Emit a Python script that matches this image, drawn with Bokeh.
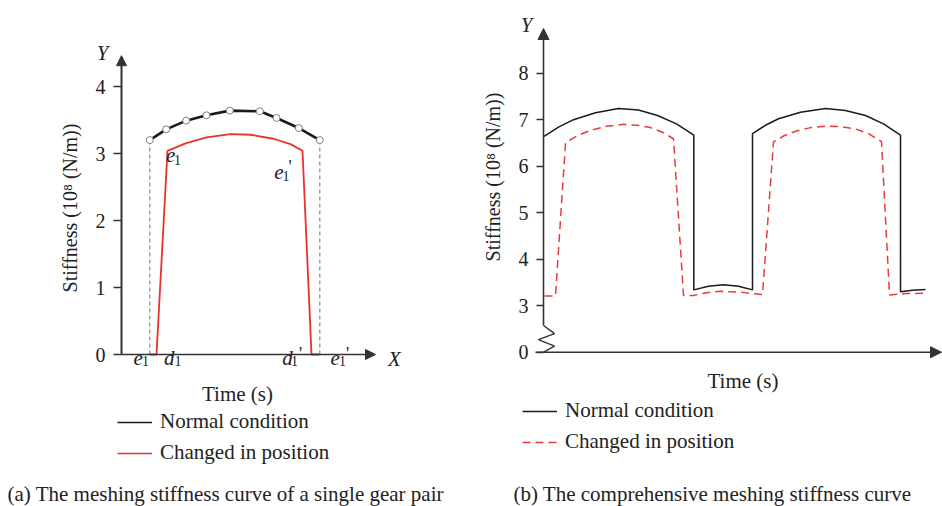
from bokeh.plotting import figure
from bokeh.models import (Range1d, LinearAxis, FixedTicker, Arrow, NormalHead,
                          Legend, LegendItem, Label)
from bokeh.layouts import row
from bokeh.embed import file_html
from bokeh.resources import INLINE
from bokeh.core.properties import value

FONT = "Liberation Serif"
INK = "#222222"
AXIS = "#333333"
RED_A = "#e8322c"
RED_B = "#e83b3b"
NAN = float("nan")

# ---------------- data: panel (a) single gear pair ----------------
a_normal_t = [2.83, 4.47, 6.47, 8.5, 10.83, 13.83, 15.5, 17.73, 19.83]
a_normal_k = [3.20, 3.36, 3.49, 3.57, 3.64, 3.63, 3.53, 3.38, 3.20]
a_changed_t = [2.8, 3.5, 4.6, 6.4, 8.5, 10.9, 12.9, 15.2, 16.9, 18.1, 19.0, 19.8]
a_changed_k = [0.0, 0.0, 3.04, 3.15, 3.24, 3.29, 3.28, 3.22, 3.14, 3.04, 0.0, 0.0]
a_yticks = [0, 1, 2, 3, 4]

# point labels of panel (a): main italic letter, subscript, prime
a_main_txt = ["e", "e", "e", "d", "d", "e", "X", "Y"]
a_main_t = [4.92, 15.73, 1.67, 4.78, 16.6, 21.37, 27.3, -1.9]
a_main_k = [2.981, 2.721, -0.045, -0.045, -0.045, -0.045, -0.064, 4.507]
a_sub_txt = ["1", "1", "1", "1", "1", "1"]
a_sub_t = [5.6, 16.45, 2.4, 5.65, 17.3, 22.1]
a_sub_k = [2.896, 2.657, -0.104, -0.104, -0.104, -0.104]
a_prime_txt = ["'", "'", "'"]
a_prime_t = [16.85, 17.9, 22.6]
a_prime_k = [2.955, 0.164, 0.164]

# ---------------- data: panel (b) comprehensive curve ----------------
b_normal_t = [0.05, 1.5, 3.0, 5.2, 7.5, 9.5, 11.4, 13.3, 15.03,
              15.03, 16.5, 18.0, 19.5, 20.9,
              20.9, 22.2, 23.5, 25.7, 28.2, 30.2, 32.2, 34.0, 35.7,
              35.7, 36.9, 38.2]
b_normal_k = [6.64, 6.84, 7.00, 7.15, 7.24, 7.21, 7.09, 6.91, 6.67,
              3.34, 3.42, 3.45, 3.42, 3.34,
              6.70, 6.88, 7.02, 7.16, 7.24, 7.20, 7.09, 6.91, 6.67,
              3.30, 3.33, 3.35]
b_changed_t = [0.1, 1.2, 2.2, 3.4, 4.7, 6.3, 8.0, 9.4, 10.7, 11.9, 13.0,
               14.0, 15.0, 16.3, 17.7, 19.7, 21.9,
               23.0, 24.1, 25.2, 26.7, 28.2, 29.7, 31.2, 32.5, 33.8,
               34.6, 36.2, 38.2]
b_changed_k = [3.21, 3.21, 6.50, 6.66, 6.77, 6.86, 6.90, 6.88, 6.83, 6.73, 6.59,
               3.22, 3.22, 3.28, 3.31, 3.29, 3.24,
               6.52, 6.66, 6.75, 6.83, 6.86, 6.85, 6.80, 6.70, 6.53,
               3.23, 3.26, 3.27]
b_yticks = [2, 3, 4, 5, 6, 7, 8]
b_ytick_labels = {2: "0"}   # broken axis: "0" sits one unit below 3
b_base = 2                  # axis position of the "0" tick

y_title = "Stiffness (10\u2078 (N/m))"
x_title = "Time (s)"
legend_labels = ["Normal condition", "Changed in position"]
captions = ["(a) The meshing stiffness curve of a single gear pair",
            "(b) The comprehensive meshing stiffness curve"]


def base_fig(width, xr, yr):
    p = figure(width=width, height=506, x_range=Range1d(*xr), y_range=Range1d(*yr),
               x_axis_type=None, y_axis_type=None, toolbar_location=None,
               output_backend="svg", title=None, min_border=0,
               outline_line_color=None, background_fill_color="white",
               border_fill_color="white")
    return p


def add_y_axis(p, ticks, bounds, overrides, tick_out, title_standoff):
    ax = LinearAxis(fixed_location=0, bounds=bounds,
                    ticker=FixedTicker(ticks=ticks, minor_ticks=[]),
                    axis_label=y_title, axis_line_color=None,
                    major_tick_out=tick_out, major_tick_in=0,
                    minor_tick_out=0, minor_tick_in=0,
                    major_tick_line_color=AXIS, major_tick_line_width=1.5,
                    major_label_standoff=8, axis_label_standoff=title_standoff,
                    major_label_text_font=FONT, major_label_text_font_size="20px",
                    major_label_text_color=INK,
                    axis_label_text_font=FONT, axis_label_text_font_size="20px",
                    axis_label_text_font_style="normal", axis_label_text_color=INK)
    if overrides:
        ax.major_label_overrides = overrides
    p.add_layout(ax, "left")


def add_x_axis(p, loc, bounds, standoff):
    ax = LinearAxis(fixed_location=loc, bounds=bounds,
                    ticker=FixedTicker(ticks=[], minor_ticks=[]),
                    axis_label=x_title, axis_line_color=None,
                    major_tick_out=0, major_tick_in=0, minor_tick_out=0, minor_tick_in=0,
                    major_label_standoff=0, axis_label_standoff=standoff,
                    axis_label_text_font=FONT, axis_label_text_font_size="21px",
                    axis_label_text_font_style="normal", axis_label_text_color=INK)
    p.add_layout(ax, "below")


def arrow(p, x0, y0, x1, y1, size, width):
    p.add_layout(Arrow(end=NormalHead(size=size, fill_color=AXIS, line_color=AXIS, line_width=1),
                       x_start=x0, y_start=y0, x_end=x1, y_end=y1,
                       line_color=AXIS, line_width=width))


def legend(p, renderers, loc):
    leg = Legend(items=[LegendItem(label=legend_labels[i], renderers=[r]) for i, r in enumerate(renderers)],
                 location=loc, orientation="vertical", glyph_width=35, glyph_height=20,
                 label_height=20, label_standoff=8, spacing=6, padding=0, margin=0,
                 border_line_color=None, background_fill_alpha=0,
                 label_text_font=FONT, label_text_font_size="21px", label_text_color=INK)
    p.add_layout(leg)


def caption(p, text, x):
    p.add_layout(Label(x=x, y=13, x_units="screen", y_units="screen", text=text,
                       text_font=FONT, text_font_size="21px", text_baseline="middle",
                       text_color=INK))


# ======================= panel (a) =======================
pa = base_fig(480, (-12.1, 35.9), ((354 - 506) / 67, 354 / 67))
add_y_axis(pa, a_yticks, (0, 4.37), None, 8, 12)
add_x_axis(pa, 0, (0, 23.2), 27)
arrow(pa, 0, 0, 0, 4.46, 10, 2)
arrow(pa, 0, 0, 25.4, 0, 10, 1.5)

# dashed guides from the ends of the normal curve down to the axis
pa.segment(x0=[a_normal_t[0], a_normal_t[-1]], y0=[0, 0],
           x1=[a_normal_t[0], a_normal_t[-1]], y1=[a_normal_k[0], a_normal_k[-1]],
           line_color="#8a8a8a", line_width=1.2, line_dash="4 3")
ra_red = pa.line(a_changed_t, a_changed_k, line_color=RED_A, line_width=1.8)
ra_black = pa.line(a_normal_t, a_normal_k, line_color="#1a1a1a", line_width=2.6)
pa.scatter(a_normal_t, a_normal_k, size=7, fill_color="white", line_color="#808080", line_width=1)

pa.text(a_main_t, a_main_k, text=a_main_txt, text_font=value(FONT), text_font_style="italic",
        text_font_size="21px", text_align="center", text_baseline="alphabetic", text_color=INK)
pa.text(a_sub_t, a_sub_k, text=a_sub_txt, text_font=value(FONT),
        text_font_size="14px", text_align="center", text_baseline="alphabetic", text_color=INK)
pa.text(a_prime_t, a_prime_k, text=a_prime_txt, text_font=value(FONT),
        text_font_size="18px", text_align="center", text_baseline="top", text_color=INK)

# legend swatches (thin lines, as in the key of the original figure); no visible data
la_black = pa.line([NAN], [NAN], line_color="#1a1a1a", line_width=1.5)
la_red = pa.line([NAN], [NAN], line_color=RED_A, line_width=1.5)
legend(pa, [la_black, la_red], (117, 41))
caption(pa, captions[0], 7)

# ======================= panel (b) =======================
b_px = 46.5
pb = base_fig(462, (-6.3, 39.9), (b_base - (506 - 351.7) / b_px, b_base + 351.7 / b_px))
add_y_axis(pb, b_yticks, (b_base, 9.536), b_ytick_labels, 7, 12)
add_x_axis(pb, b_base, (0, 40.4), 16)
arrow(pb, 0, 2.574, 0, 8.961, 11, 1.6)
arrow(pb, -0.8, b_base, 39.8, b_base, 11, 1.6)
# axis break zigzag
pb.line([0, 1.1, -0.5, 1.1, 0], [2.574, 2.40, 2.27, 2.13, b_base], line_color=AXIS, line_width=1.4)
pb.text([-1.7], [9.026], text=["Y"], text_font=value(FONT), text_font_style="italic",
        text_font_size="21px", text_align="center", text_baseline="alphabetic", text_color=INK)

rb_black = pb.line(b_normal_t, b_normal_k, line_color="#1a1a1a", line_width=1.5)
rb_red = pb.line(b_changed_t, b_changed_k, line_color=RED_B, line_width=1.5, line_dash="8 5")

legend(pb, [rb_black, rb_red], (42, 52))
caption(pb, captions[1], 33)

layout = row(pa, pb)
open("out.html", "w").write(file_html(layout, INLINE))
